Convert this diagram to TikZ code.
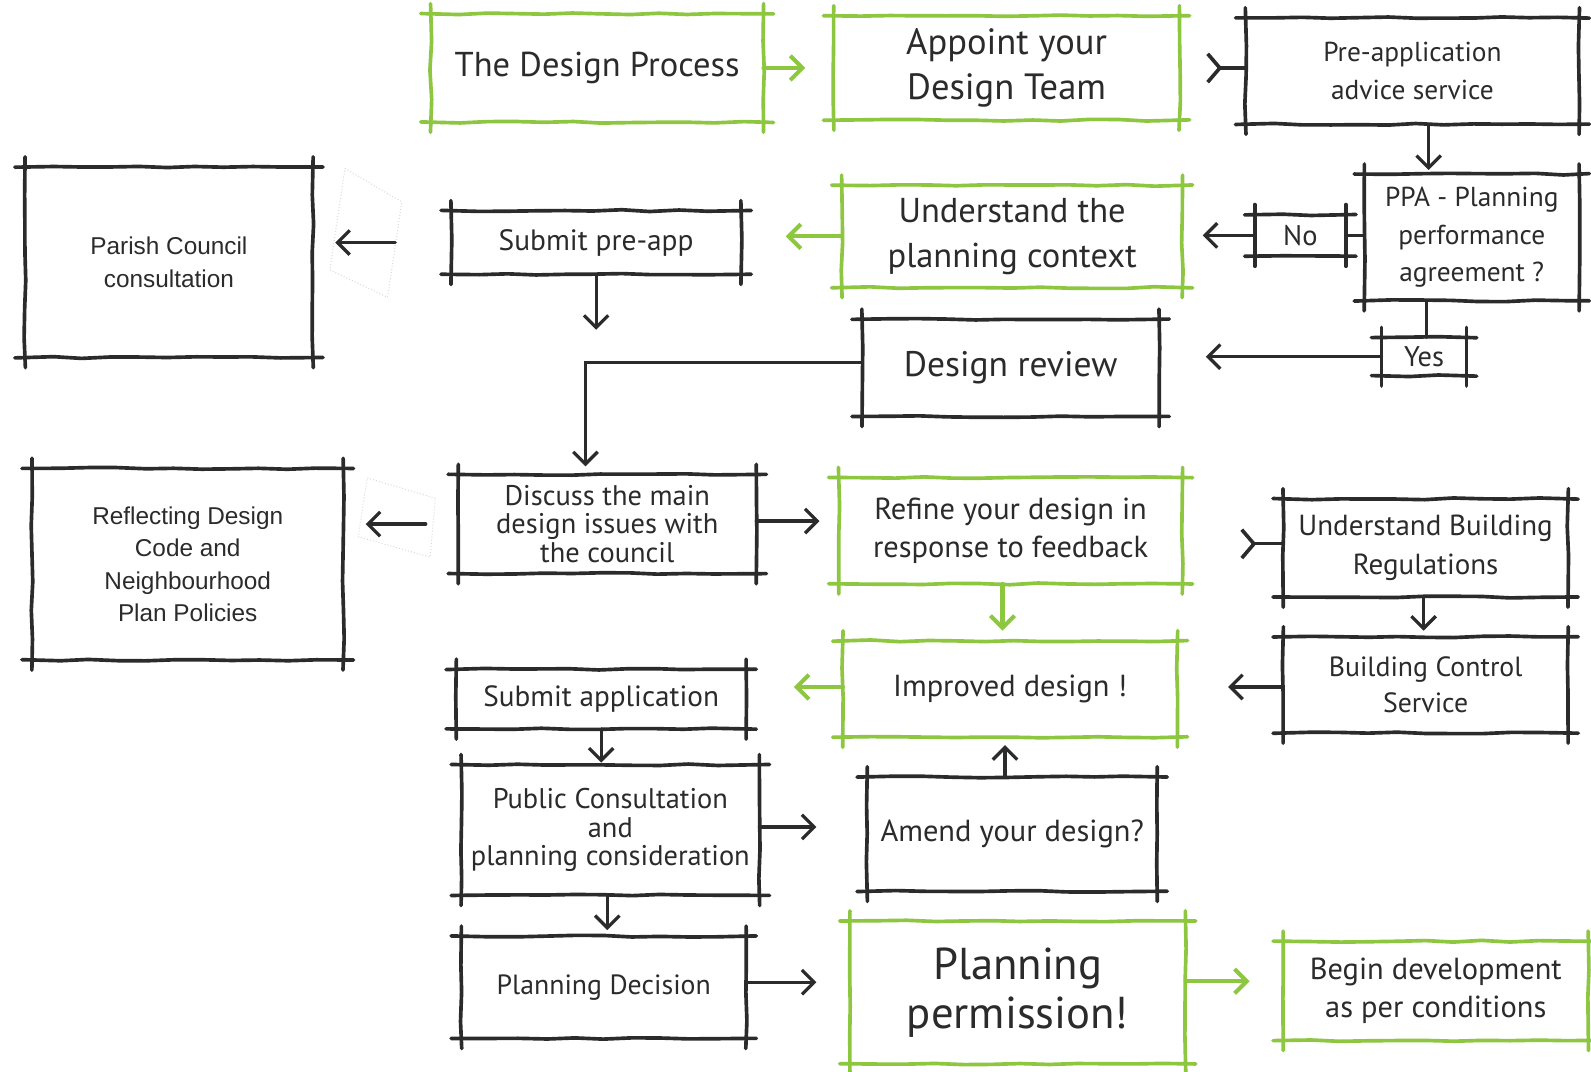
\documentclass[tikz,border=0pt]{standalone}
\usepackage{fontspec}
\setmainfont{PT Sans}
\newfontfamily\arialf{Liberation Sans}
\usetikzlibrary{arrows.meta,calc,decorations.pathmorphing}
\definecolor{ink}{HTML}{2B2B2B}
\definecolor{grn}{HTML}{8DC63F}
\tikzset{
  wh/.style 2 args={minimum width=#1*0.5pt, minimum height=#2*0.5pt},
  fs/.style 2 args={font=\fontsize{#1}{#2}\selectfont},
  hand/.style={decorate, decoration={random steps, segment length=14pt, amplitude=0.45pt}},
  ovl/.style={line width=1.8pt, line cap=round, hand, shorten <=-5pt, shorten >=-5pt},
  skk/.style={rectangle, inner sep=0pt, align=center, text=ink,
    append after command={
      (\tikzlastnode.north west) edge[ovl, draw=ink] (\tikzlastnode.north east)
      (\tikzlastnode.south west) edge[ovl, draw=ink] (\tikzlastnode.south east)
      (\tikzlastnode.north west) edge[ovl, draw=ink] (\tikzlastnode.south west)
      (\tikzlastnode.north east) edge[ovl, draw=ink] (\tikzlastnode.south east)}},
  skg/.style={rectangle, inner sep=0pt, align=center, text=ink,
    append after command={
      (\tikzlastnode.north west) edge[ovl, draw=grn] (\tikzlastnode.north east)
      (\tikzlastnode.south west) edge[ovl, draw=grn] (\tikzlastnode.south east)
      (\tikzlastnode.north west) edge[ovl, draw=grn] (\tikzlastnode.south west)
      (\tikzlastnode.north east) edge[ovl, draw=grn] (\tikzlastnode.south east)}},
  karr/.style={draw=ink, line width=1.6pt, line cap=round, -{Straight Barb[length=6pt,width=12pt,line width=1.6pt]}},
  garr/.style={draw=grn, line width=2pt, line cap=round, -{Straight Barb[length=6pt,width=12pt,line width=2pt]}},
  kline/.style={draw=ink, line width=1.6pt, line cap=round},
  fork/.style={draw=ink, line width=1.6pt, line cap=round, {Straight Barb[reversed,length=6pt,width=14pt,line width=1.8pt]}-},
  ghost/.style={draw=black!14, line width=0.5pt, densely dotted},
}
\begin{document}
\begin{tikzpicture}[x=0.5pt,y=-0.5pt]
\useasboundingbox[fill=white] (0,0) rectangle (1568,1056);

% faint paper patches behind the left arrows
\draw[ghost] (340,166) -- (396,199) -- (382,293) -- (325,266) -- cycle;
\draw[ghost] (362,471) -- (429,491) -- (424,549) -- (353,529) -- cycle;

% left column (typed text)
\node[skk, wh={283}{187}, font=\arialf\fontsize{12}{16}\selectfont] (parish) at (166.5,258.5) {Parish Council\\ consultation};
\node[skk, wh={306}{188}, font=\arialf\fontsize{12}{16}\selectfont] (refl) at (185,556) {Reflecting Design\\Code and\\Neighbourhood\\Plan Policies};

% row 1
\node[skg, wh={327}{106}, fs={17}{20}] (dp) at (588.5,67) {\raisebox{2pt}{The Design Process}};
\node[skg, wh={340}{102}, fs={18}{22}] (ap) at (992,67) {Appoint your\\Design Team};
\node[skk, wh={328}{104}, fs={13.5}{18.5}] (pa) at (1392,70) {Pre-application\\advice service};

% row 2
\node[skk, wh={285}{62}, fs={14.5}{18}] (spa) at (587.5,239) {Submit pre-app};
\node[skg, wh={335}{100}, fs={17}{22.5}] (upc) at (997.5,233) {Understand the\\planning context};
\node[skk, wh={89}{40}, fs={14}{18}] (no) at (1281.5,232) {No};
\node[skk, wh={211}{124}, fs={13.5}{18.5}] (ppa) at (1450.5,234) {PPA - Planning\\performance\\agreement ?};

% row 3
\node[skk, wh={292}{95}, fs={17.5}{22}] (dr) at (996,362.5) {\raisebox{3pt}{Design review}};
\node[skk, wh={83}{37}, fs={14}{18}] (yes) at (1403.5,351.5) {Yes};

% row 4
\node[skk, wh={293}{97}, fs={14}{14}] (disc) at (598.5,516.5) {Discuss the main\\design issues with\\the council};
\node[skg, wh={338}{104}, fs={15}{18.5}] (ref) at (996,523) {Refine your design in\\response to feedback};
\node[skk, wh={280}{96}, fs={14.3}{19}] (ubr) at (1405,540) {Understand Building\\Regulations};

% row 5
\node[skk, wh={285}{58}, fs={14.4}{18}] (sa) at (592.5,689) {\raisebox{2pt}{Submit application}};
\node[skg, wh={329}{94}, fs={15}{18}] (imp) at (995.5,679) {\raisebox{3.5pt}{Improved design !}};
\node[skk, wh={280}{94}, fs={13.7}{18}] (bc) at (1405,675) {Building Control\\Service};

% row 6
\node[skk, wh={293}{128}, fs={14}{14}] (pcons) at (601.5,818) {Public Consultation\\and\\planning consideration};
\node[skk, wh={285}{112}, fs={15}{18}] (amd) at (997.5,822) {Amend your design?};

% row 7
\node[skk, wh={280}{100}, fs={13.7}{18}] (pd) at (595,973) {\raisebox{3pt}{Planning Decision}};
\node[skg, wh={330}{140}, fs={22}{24}] (pp) at (1003,978) {Planning\\permission!};
\node[skg, wh={300}{97}, fs={15}{19}] (bd) at (1415,976.5) {Begin development\\as per conditions};

% helper points on node borders
\coordinate (paS) at ($(pa.south)+(16,0)$);
\coordinate (ppaS) at ($(ppa.south)+(-45,0)$);
\coordinate (discE) at ($(disc.east)+(0,-3)$);
\coordinate (refS) at ($(ref.south)+(-8,0)$);
\coordinate (ubrS) at ($(ubr.south)+(-2,0)$);
\coordinate (bcW) at ($(bc.west)+(0,2)$);
\coordinate (impW) at ($(imp.west)+(0,-2)$);
\coordinate (pconsE) at ($(pcons.east)+(0,-3)$);
\coordinate (amdN) at ($(amd.north)+(-7,0)$);
\coordinate (pconsS) at ($(pcons.south)+(-3,0)$);
\coordinate (pdE) at ($(pd.east)+(0,-5)$);
\coordinate (ppE) at ($(pp.east)+(0,-11)$);
\coordinate (bend) at (577,357);
\coordinate (ubrtail) at (1222,536);

% connectors
\draw[garr, shorten >=14pt] (dp.east) -- (dp.east -| ap.west);
\draw[fork, shorten <=13pt] (ap.east) -- (ap.east -| pa.west);
\draw[karr, shorten >=2pt] (paS) -- (paS |- ppa.north);
\draw[kline] (ppa.west |- no.east) -- (no.east);
\draw[karr, shorten >=10pt] (no.west) -- (no.west -| upc.east);
\draw[garr, shorten >=22pt] (upc.west) -- (upc.west -| spa.east);
\draw[karr, shorten <=27.5pt, shorten >=11pt] (spa.west) -- (spa.west -| parish.east);
\draw[karr, shorten >=16pt] (spa.south) -- (spa.south |- bend);
\draw[kline] (ppaS) -- (ppaS |- yes.north);
\draw[karr, shorten >=23pt] (yes.west) -- (yes.west -| dr.east);
\draw[karr, shorten >=4pt] (dr.west |- bend) -- (bend) -- (bend |- disc.north);
\draw[karr, shorten <=16pt, shorten >=11pt] (disc.west) -- (disc.west -| refl.east);
\draw[karr, shorten >=9.5pt] (discE) -- (discE -| ref.west);
\draw[garr, shorten >=5pt] (refS) -- (refS |- imp.north);
\draw[fork] (ubrtail) -- (ubrtail -| ubr.west);
\draw[karr, shorten >=3pt] (ubrS) -- (ubrS |- bc.north);
\draw[karr, shorten >=25pt] (bcW) -- (bcW -| imp.east);
\draw[garr, shorten >=23.5pt] (impW) -- (impW -| sa.east);
\draw[karr, shorten >=1pt] (sa.south) -- (sa.south |- pcons.north);
\draw[karr, shorten >=25pt] (pconsE) -- (pconsE -| amd.west);
\draw[karr, shorten >=4pt] (amdN) -- (amdN |- imp.south);
\draw[karr, shorten >=3pt] (pconsS) -- (pconsS |- pd.north);
\draw[karr, shorten >=16.5pt] (pdE) -- (pdE -| pp.west);
\draw[garr, shorten >=16.5pt] (ppE) -- (ppE -| bd.west);
\end{tikzpicture}
\end{document}
